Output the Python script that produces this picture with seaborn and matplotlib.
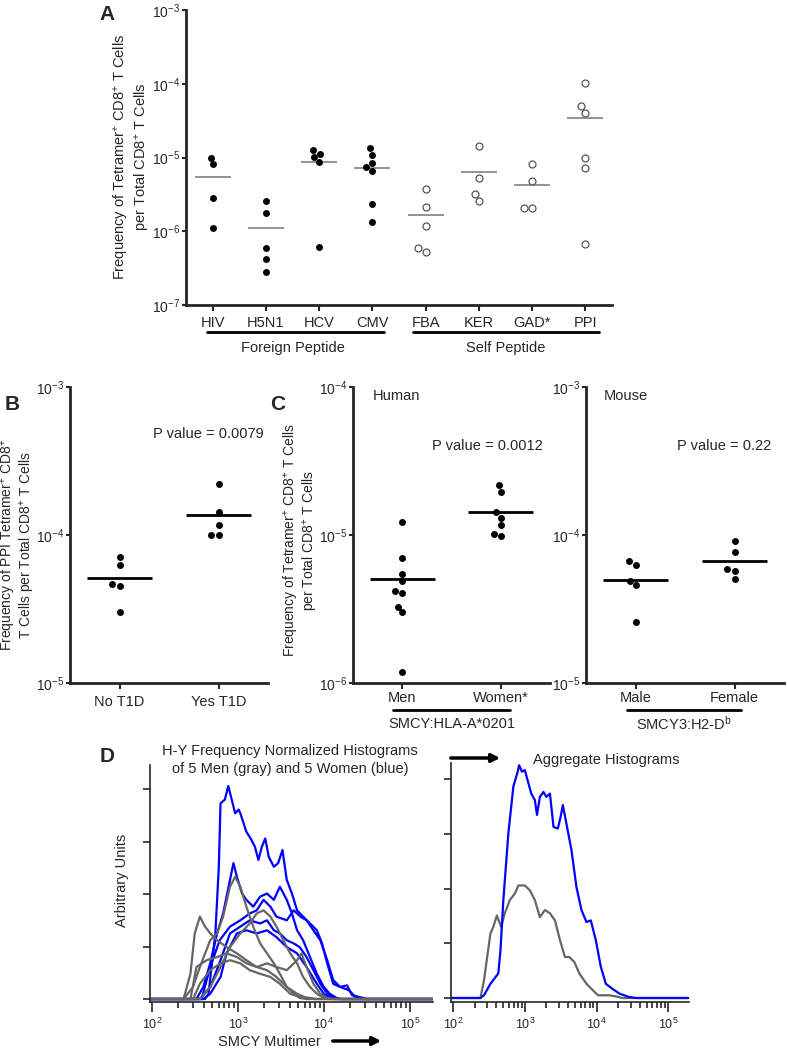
import numpy as np
import pandas as pd
import matplotlib
matplotlib.use("Agg")
import matplotlib.pyplot as plt
import seaborn as sns
from matplotlib.patches import FancyArrowPatch
from matplotlib.ticker import NullLocator, FixedLocator, LogLocator, NullFormatter

# ---------------- Panel A data ----------------
a_categories = ["HIV", "H5N1", "HCV", "CMV", "FBA", "KER", "GAD*", "PPI"]
a_foreign = ["HIV", "H5N1", "HCV", "CMV"]
a_self = ["FBA", "KER", "GAD*", "PPI"]
a_hiv = [1.0e-5, 8.1e-6, 2.8e-6, 1.09e-6]
a_h5n1 = [2.55e-6, 1.77e-6, 5.96e-7, 4.14e-7, 2.82e-7]
a_hcv = [1.25e-5, 1.11e-5, 1.01e-5, 8.68e-6, 6.2e-7]
a_cmv = [1.33e-5, 1.08e-5, 8.41e-6, 7.35e-6, 6.62e-6, 2.37e-6, 1.35e-6]
a_fba = [3.78e-6, 2.14e-6, 1.18e-6, 5.89e-7, 5.2e-7]
a_ker = [1.43e-5, 5.33e-6, 3.21e-6, 2.55e-6]
a_gad = [8.17e-6, 4.85e-6, 2.09e-6, 2.09e-6]
a_ppi = [1.01e-4, 5.02e-5, 4.0e-5, 9.73e-6, 7.2e-6, 6.8e-7]
a_values = [a_hiv, a_h5n1, a_hcv, a_cmv, a_fba, a_ker, a_gad, a_ppi]

# ---------------- Panel B data ----------------
b_categories = ["No T1D", "Yes T1D"]
b_no = [7.14e-5, 6.24e-5, 4.64e-5, 4.55e-5, 3.04e-5]
b_yes = [2.21e-4, 1.42e-4, 1.17e-4, 9.95e-5, 9.95e-5]

# ---------------- Panel C data ----------------
c_human_categories = ["Men", "Women*"]
c_men = [1.22e-5, 7.03e-6, 5.48e-6, 4.89e-6, 4.16e-6, 4.03e-6, 3.28e-6, 3.02e-6, 1.19e-6]
c_women = [2.18e-5, 1.96e-5, 1.42e-5, 1.31e-5, 1.16e-5, 1.02e-5, 9.85e-6]
c_mouse_categories = ["Male", "Female"]
c_male = [6.67e-5, 6.3e-5, 4.89e-5, 4.57e-5, 2.57e-5]
c_female = [9.1e-5, 7.71e-5, 5.89e-5, 5.74e-5, 5.01e-5]

# ---------------- Panel D data (log10 multimer, arbitrary units) ----------------
d_blue1_logx = [1.98, 2.62, 2.66, 2.74, 2.78, 2.80, 2.85, 2.89, 2.93, 2.97, 3.01, 3.03, 3.10, 3.16, 3.20, 3.24, 3.28, 3.32, 3.36, 3.42, 3.47, 3.52, 3.57, 3.63, 3.69, 3.76, 3.84, 3.92, 3.98, 4.04, 4.11, 4.19, 4.27, 4.33, 4.46, 4.50, 5.27]
d_blue1_y = [0, 0, 0.10, 1.25, 2.52, 3.73, 3.80, 4.06, 3.80, 3.54, 3.61, 3.54, 3.19, 3.03, 2.90, 2.65, 2.90, 3.06, 2.71, 2.52, 2.59, 2.84, 2.27, 2.01, 1.69, 1.57, 1.44, 1.31, 1.06, 0.68, 0.29, 0.23, 0.26, 0.07, 0.02, 0, 0]
d_blue2_logx = [1.98, 2.52, 2.60, 2.68, 2.76, 2.83, 2.91, 2.95, 2.99, 3.05, 3.10, 3.18, 3.26, 3.34, 3.42, 3.49, 3.57, 3.63, 3.69, 3.76, 3.84, 3.92, 4.00, 4.07, 4.15, 4.20, 5.27]
d_blue2_y = [0, 0, 0.23, 0.68, 1.25, 1.63, 2.27, 2.59, 2.33, 2.01, 1.89, 1.76, 1.95, 2.01, 1.89, 2.14, 1.89, 1.63, 1.31, 1.12, 0.80, 0.48, 0.23, 0.10, 0.02, 0, 0]
d_blue3_logx = [1.98, 2.58, 2.68, 2.79, 2.91, 3.03, 3.14, 3.22, 3.30, 3.38, 3.45, 3.57, 3.65, 3.73, 3.80, 3.88, 3.96, 4.04, 4.11, 4.19, 4.29, 4.38, 4.45, 5.27]
d_blue3_y = [0, 0, 0.61, 1.12, 1.38, 1.50, 1.63, 1.69, 1.89, 1.76, 1.57, 1.50, 1.69, 1.57, 1.50, 1.31, 1.12, 0.74, 0.36, 0.23, 0.17, 0.02, 0, 0]
d_blue4_logx = [1.98, 2.56, 2.68, 2.80, 2.91, 3.03, 3.14, 3.26, 3.34, 3.42, 3.49, 3.57, 3.65, 3.72, 3.80, 3.88, 3.96, 4.04, 4.11, 4.20, 5.27]
d_blue4_y = [0, 0, 0.23, 0.74, 1.25, 1.38, 1.50, 1.44, 1.50, 1.31, 1.25, 1.12, 1.06, 0.99, 0.80, 0.55, 0.29, 0.10, 0.02, 0, 0]
d_blue5_logx = [1.98, 2.60, 2.68, 2.80, 2.87, 2.99, 3.10, 3.22, 3.34, 3.45, 3.57, 3.69, 3.80, 3.92, 4.00, 4.07, 4.15, 5.27]
d_blue5_y = [0, 0, 0.10, 0.42, 0.87, 1.25, 1.31, 1.25, 1.31, 1.18, 0.99, 0.87, 0.61, 0.29, 0.10, 0.02, 0, 0]
d_gray1_logx = [1.98, 2.37, 2.48, 2.56, 2.68, 2.76, 2.83, 2.91, 2.97, 3.03, 3.10, 3.18, 3.26, 3.34, 3.42, 3.49, 3.57, 3.65, 3.72, 3.80, 5.27]
d_gray1_y = [0, 0, 0.23, 0.61, 1.12, 1.25, 1.57, 2.14, 2.33, 2.14, 1.76, 1.38, 1.06, 0.87, 0.68, 0.48, 0.23, 0.10, 0.02, 0, 0]
d_gray2_logx = [1.98, 2.37, 2.45, 2.50, 2.56, 2.62, 2.68, 2.76, 2.87, 2.99, 3.10, 3.22, 3.34, 3.45, 3.57, 3.69, 3.80, 3.90, 5.27]
d_gray2_y = [0, 0, 0.48, 1.25, 1.57, 1.38, 1.25, 1.12, 0.99, 0.87, 0.74, 0.61, 0.55, 0.42, 0.23, 0.10, 0.02, 0, 0]
d_gray3_logx = [1.98, 2.56, 2.68, 2.80, 2.91, 3.03, 3.14, 3.22, 3.30, 3.38, 3.45, 3.53, 3.61, 3.69, 3.76, 3.84, 3.92, 4.00, 4.05, 5.27]
d_gray3_y = [0, 0, 0.23, 0.61, 0.99, 1.25, 1.44, 1.63, 1.69, 1.57, 1.38, 1.12, 0.87, 0.68, 0.42, 0.23, 0.10, 0.02, 0, 0]
d_gray4_logx = [1.98, 2.45, 2.52, 2.64, 2.76, 2.87, 2.99, 3.10, 3.22, 3.34, 3.45, 3.57, 3.69, 3.74, 3.80, 3.88, 3.96, 4.04, 4.10, 5.27]
d_gray4_y = [0, 0, 0.61, 0.74, 0.80, 0.87, 0.80, 0.68, 0.61, 0.68, 0.61, 0.55, 0.74, 0.87, 0.61, 0.29, 0.10, 0.02, 0, 0]
d_gray5_logx = [1.98, 2.48, 2.56, 2.68, 2.80, 2.91, 3.03, 3.14, 3.26, 3.38, 3.49, 3.61, 3.72, 3.84, 3.90, 5.27]
d_gray5_y = [0, 0, 0.29, 0.55, 0.68, 0.74, 0.68, 0.55, 0.48, 0.42, 0.29, 0.10, 0.04, 0.02, 0, 0]

agg_blue_logx = [1.97, 2.38, 2.43, 2.52, 2.63, 2.66, 2.70, 2.77, 2.84, 2.90, 2.92, 2.96, 3.00, 3.05, 3.09, 3.14, 3.17, 3.21, 3.26, 3.30, 3.35, 3.40, 3.46, 3.50, 3.53, 3.58, 3.65, 3.72, 3.79, 3.86, 3.92, 3.99, 4.06, 4.13, 4.22, 4.32, 4.45, 4.55, 5.28]
agg_blue_y = [0, 0, 0.05, 0.26, 0.45, 0.87, 1.79, 3.01, 3.87, 4.14, 4.26, 4.14, 4.17, 3.93, 3.74, 3.62, 3.35, 3.68, 3.77, 3.68, 3.74, 3.13, 3.10, 3.32, 3.53, 3.19, 2.71, 2.03, 1.61, 1.39, 1.42, 1.06, 0.57, 0.26, 0.17, 0.08, 0.02, 0, 0]
agg_gray_logx = [1.97, 2.38, 2.43, 2.52, 2.56, 2.61, 2.67, 2.72, 2.79, 2.86, 2.91, 3.00, 3.07, 3.14, 3.21, 3.28, 3.35, 3.42, 3.49, 3.56, 3.62, 3.69, 3.76, 3.86, 3.95, 4.02, 4.18, 4.27, 4.36, 5.28]
agg_gray_y = [0, 0, 0.32, 1.18, 1.30, 1.51, 1.30, 1.55, 1.79, 1.91, 2.06, 2.06, 1.97, 1.79, 1.48, 1.61, 1.55, 1.42, 1.06, 0.75, 0.75, 0.66, 0.45, 0.26, 0.14, 0.05, 0.05, 0.03, 0, 0]

# ---------------- style ----------------
sns.set_style("ticks")
plt.rcParams["font.family"] = ["Liberation Sans", "DejaVu Sans"]
plt.rcParams["mathtext.default"] = "regular"
plt.rcParams["axes.linewidth"] = 2

BLUE = "#0000ff"
GRAY = "#666666"
W, H = 787, 1050
fig = plt.figure(figsize=(W / 100, H / 100), dpi=100)


def box(l, t, r, b):
    return [l / W, 1 - b / H, (r - l) / W, (b - t) / H]


def fx(x):
    return x / W


def fy(y):
    return 1 - y / H


def decade_label(e):
    return r"$10^{%d}$" % e


def style_dot_axes(ax, ylo, yhi, xpad):
    sns.despine(ax=ax)
    ax.set_yscale("log")
    ax.set_ylim(10.0 ** ylo, 10.0 ** yhi)
    exps = list(range(ylo, yhi + 1))
    ax.yaxis.set_major_locator(FixedLocator([10.0 ** e for e in exps]))
    ax.set_yticklabels([decade_label(e) for e in exps])
    ax.yaxis.set_minor_locator(NullLocator())
    ax.tick_params(axis="y", length=3, width=1.5, pad=1, labelsize=10)
    ax.tick_params(axis="x", length=4, width=1.5, pad=xpad, labelsize=10.5)
    ax.set_xlabel("")
    ax.set_ylabel("")


def mean_lines(ax, cats, vals, color, lw, half):
    for i, v in enumerate(vals):
        m = float(np.mean(v))
        ax.hlines(m, i - half, i + half, color=color, lw=lw, zorder=1)


def long_df(cats, vals):
    rows = []
    for c, v in zip(cats, vals):
        for x in v:
            rows.append({"cat": c, "val": x})
    return pd.DataFrame(rows)


# ---------------- Panel A ----------------
axA = fig.add_axes(box(186, 10, 612, 305))
dfA = long_df(a_categories, a_values)
dfA_f = dfA[dfA["cat"].isin(a_foreign)]
dfA_s = dfA[dfA["cat"].isin(a_self)]
sns.swarmplot(data=dfA_f, x="cat", y="val", order=a_categories, log_scale=True,
              color="black", size=5, ax=axA, zorder=3)
sns.swarmplot(data=dfA_s, x="cat", y="val", order=a_categories, log_scale=True,
              color="white", edgecolor="#555555", linewidth=0.9, size=5, ax=axA, zorder=3)
mean_lines(axA, a_categories, a_values, "#8a8a8a", 1.3, 0.34)
style_dot_axes(axA, -7, -3, 4)
axA.set_xlim(-0.5, len(a_categories) - 0.5)
trA = axA.get_xaxis_transform()
axA.plot([-0.11, 3.21], [-0.092, -0.092], color="black", lw=2, transform=trA, clip_on=False)
axA.plot([3.77, 7.26], [-0.092, -0.092], color="black", lw=2, transform=trA, clip_on=False)
axA.text(1.5, -0.145, "Foreign Peptide", transform=trA, ha="center", va="center", fontsize=10.5)
axA.text(5.5, -0.145, "Self Peptide", transform=trA, ha="center", va="center", fontsize=10.5)
fig.text(fx(132), fy(157), "Frequency of Tetramer$^{+}$ CD8$^{+}$ T Cells\nper Total CD8$^{+}$ T Cells",
         rotation=90, ha="center", va="center", fontsize=10.5, multialignment="center",
         linespacing=1.1)

# ---------------- Panel B ----------------
axB = fig.add_axes(box(70, 387, 268, 683))
dfB = long_df(b_categories, [b_no, b_yes])
sns.swarmplot(data=dfB, x="cat", y="val", order=b_categories, log_scale=True,
              color="black", size=5, ax=axB, zorder=3)
mean_lines(axB, b_categories, [b_no, b_yes], "black", 2, 0.33)
style_dot_axes(axB, -5, -3, 5)
axB.set_xlim(-0.5, 1.5)
axB.text(0.7, 0.84, "P value = 0.0079", transform=axB.transAxes, ha="center", va="center", fontsize=10.5)
fig.text(fx(18), fy(545), "Frequency of PPI Tetramer$^{+}$ CD8$^{+}$\nT Cells per Total CD8$^{+}$ T Cells",
         rotation=90, ha="center", va="center", fontsize=10, multialignment="center",
         linespacing=1.0)

# ---------------- Panel C (human) ----------------
axC1 = fig.add_axes(box(353, 387, 550, 683))
dfC1 = long_df(c_human_categories, [c_men, c_women])
sns.swarmplot(data=dfC1, x="cat", y="val", order=c_human_categories, log_scale=True,
              color="black", size=5, ax=axC1, zorder=3)
mean_lines(axC1, c_human_categories, [c_men, c_women], "black", 2, 0.33)
style_dot_axes(axC1, -6, -4, 2)
axC1.set_xlim(-0.5, 1.5)
axC1.text(0.1, 0.97, "Human", transform=axC1.transAxes, ha="left", va="center", fontsize=10.5)
axC1.text(0.68, 0.80, "P value = 0.0012", transform=axC1.transAxes, ha="center", va="center", fontsize=10.5)
trC1 = axC1.get_xaxis_transform()
axC1.plot([-0.09, 1.09], [-0.09, -0.09], color="black", lw=2, transform=trC1, clip_on=False)
axC1.text(0.5, -0.137, "SMCY:HLA-A*0201", transform=trC1, ha="center", va="center", fontsize=10.5)
fig.text(fx(301), fy(540), "Frequency of Tetramer$^{+}$ CD8$^{+}$ T Cells\nper Total CD8$^{+}$ T Cells",
         rotation=90, ha="center", va="center", fontsize=10, multialignment="center",
         linespacing=1.05)

# ---------------- Panel C (mouse) ----------------
axC2 = fig.add_axes(box(586, 387, 784, 683))
dfC2 = long_df(c_mouse_categories, [c_male, c_female])
sns.swarmplot(data=dfC2, x="cat", y="val", order=c_mouse_categories, log_scale=True,
              color="black", size=5, ax=axC2, zorder=3)
mean_lines(axC2, c_mouse_categories, [c_male, c_female], "black", 2, 0.33)
style_dot_axes(axC2, -5, -3, 2)
axC2.set_xlim(-0.5, 1.5)
axC2.text(0.09, 0.97, "Mouse", transform=axC2.transAxes, ha="left", va="center", fontsize=10.5)
axC2.text(0.70, 0.80, "P value = 0.22", transform=axC2.transAxes, ha="center", va="center", fontsize=10.5)
trC2 = axC2.get_xaxis_transform()
axC2.plot([-0.09, 1.07], [-0.09, -0.09], color="black", lw=2, transform=trC2, clip_on=False)
axC2.text(0.49, -0.137, "SMCY3:H2-D$^{b}$", transform=trC2, ha="center", va="center", fontsize=10.5)


# ---------------- Panel D ----------------
def curves_df(curves):
    rows = []
    for name, grp, lx, ly in curves:
        for a, b in zip(lx, ly):
            rows.append({"curve": name, "group": grp, "x": 10.0 ** a, "y": b})
    return pd.DataFrame(rows)


def style_hist_axes(ax, xlo, xhi, ylo, yhi):
    sns.despine(ax=ax)
    for s in ["left", "bottom"]:
        ax.spines[s].set_linewidth(1.2)
    ax.set_xscale("log")
    ax.set_xlim(10.0 ** xlo, 10.0 ** xhi)
    ax.set_ylim(ylo, yhi)
    ax.set_yticks([0, 1, 2, 3, 4])
    ax.set_yticklabels([])
    ax.xaxis.set_major_locator(FixedLocator([1e2, 1e3, 1e4, 1e5]))
    ax.set_xticklabels([decade_label(e) for e in [2, 3, 4, 5]])
    ax.xaxis.set_minor_locator(LogLocator(base=10, subs=np.arange(2, 10), numticks=20))
    ax.xaxis.set_minor_formatter(NullFormatter())
    ax.tick_params(axis="x", which="major", length=7, width=1.2, pad=4, labelsize=9)
    ax.tick_params(axis="x", which="minor", length=4, width=1.2)
    ax.tick_params(axis="y", length=5, width=1.2)
    ax.set_xlabel("")
    ax.set_ylabel("")


axD1 = fig.add_axes(box(150, 765, 433, 1002))
axD1.set_xscale("log")
blue_curves = curves_df([
    ("b1", "blue", d_blue1_logx, d_blue1_y),
    ("b2", "blue", d_blue2_logx, d_blue2_y),
    ("b3", "blue", d_blue3_logx, d_blue3_y),
    ("b4", "blue", d_blue4_logx, d_blue4_y),
    ("b5", "blue", d_blue5_logx, d_blue5_y),
])
gray_curves = curves_df([
    ("g1", "gray", d_gray1_logx, d_gray1_y),
    ("g2", "gray", d_gray2_logx, d_gray2_y),
    ("g3", "gray", d_gray3_logx, d_gray3_y),
    ("g4", "gray", d_gray4_logx, d_gray4_y),
    ("g5", "gray", d_gray5_logx, d_gray5_y),
])
sns.lineplot(data=blue_curves, x="x", y="y", units="curve", estimator=None, sort=False,
             color=BLUE, lw=1.6, ax=axD1, legend=False)
sns.lineplot(data=gray_curves, x="x", y="y", units="curve", estimator=None, sort=False,
             color=GRAY, lw=1.6, ax=axD1, legend=False)
style_hist_axes(axD1, 1.98, 5.27, -0.057, 4.46)

axD2 = fig.add_axes(box(451, 763, 689, 1002))
axD2.set_xscale("log")
agg = curves_df([
    ("ag", "gray", agg_gray_logx, agg_gray_y),
    ("ab", "blue", agg_blue_logx, agg_blue_y),
])
sns.lineplot(data=agg, x="x", y="y", hue="group", units="curve", estimator=None, sort=False,
             palette={"gray": GRAY, "blue": BLUE}, hue_order=["gray", "blue"], lw=1.6,
             ax=axD2, legend=False)
style_hist_axes(axD2, 1.97, 5.29, -0.073, 4.30)

fig.text(fx(290), fy(760), "H-Y Frequency Normalized Histograms\nof 5 Men (gray) and 5 Women (blue)",
         ha="center", va="center", fontsize=10.5, linespacing=1.35)
fig.text(fx(533), fy(760), "Aggregate Histograms", ha="left", va="center", fontsize=10.5)
fig.text(fx(122), fy(880), "Arbitrary Units", rotation=90, ha="center", va="center", fontsize=10.5)
fig.text(fx(269), fy(1042), "SMCY Multimer", ha="center", va="center", fontsize=10.5)
for (x1, y1, x2, y2) in [(448, 758, 503, 758), (330, 1041, 384, 1041)]:
    fig.add_artist(FancyArrowPatch((fx(x1), fy(y1)), (fx(x2), fy(y2)), transform=fig.transFigure,
                                   arrowstyle="-|>", mutation_scale=12, lw=2.5, color="black"))

# Panel letters
for lab, x, y in [("A", 107, 14), ("B", 12, 405), ("C", 278, 405), ("D", 107, 757)]:
    fig.text(fx(x), fy(y), lab, ha="center", va="center", fontsize=15, fontweight="bold")

fig.savefig("out.png", dpi=100)
